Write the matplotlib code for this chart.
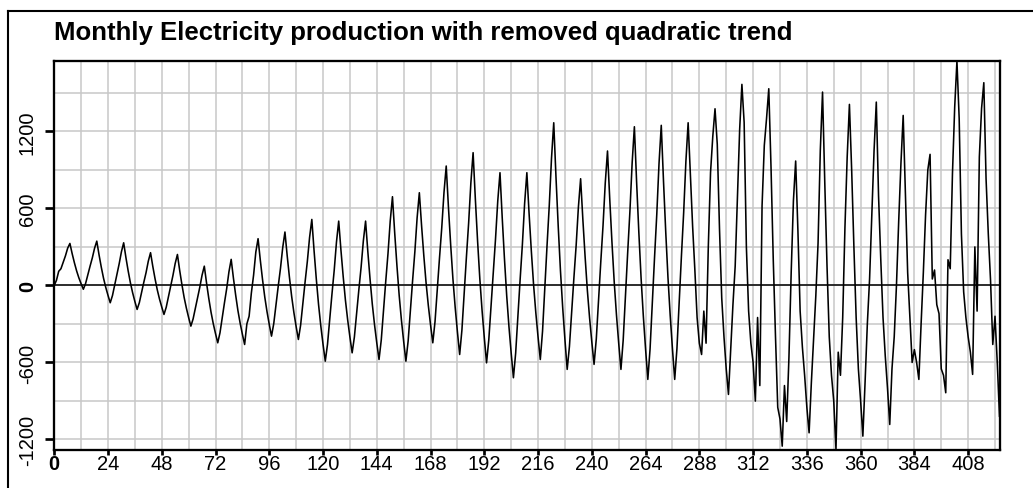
import matplotlib
matplotlib.use('Agg')
import matplotlib.pyplot as plt
from matplotlib.lines import Line2D
from matplotlib.ticker import MultipleLocator, FixedLocator
import numpy as np

# monthly production after removing the quadratic trend, one row per year
production = [
    0, 40, 110, 130, 180, 230, 290, 327, 248, 177, 113, 59,
    13, -30, 15, 83, 150, 214, 289, 345, 239, 143, 57, -15,
    -77, -135, -79, 5, 89, 169, 262, 332, 218, 114, 21, -57,
    -125, -187, -134, -54, 25, 100, 189, 255, 149, 53, -34, -106,
    -168, -226, -170, -86, -2, 78, 171, 241, 118, 7, -94, -177,
    -250, -317, -261, -177, -93, -13, 80, 150, 19, -101, -208, -298,
    -375, -447, -369, -252, -135, -24, 106, 203, 57, -75, -195, -294,
    -380, -460, -300, -240, -60, 80, 260, 364, 197, 45, -91, -205,
    -304, -395, -298, -152, -6, 132, 294, 416, 232, 64, -86, -212,
    -321, -421, -309, -140, 28, 187, 374, 514, 271, 50, -148, -314,
    -458, -590, -459, -263, -66, 119, 337, 501, 275, 70, -115, -268,
    -402, -525, -402, -217, -33, 142, 347, 501, 264, 48, -146, -307,
    -448, -577, -425, -197, 32, 247, 501, 691, 409, 153, -78, -270,
    -436, -590, -433, -196, 40, 263, 525, 722, 465, 231, 21, -155,
    -307, -447, -282, -34, 214, 448, 723, 930, 607, 313, 49, -171,
    -362, -538, -349, -66, 217, 484, 798, 1034, 674, 346, 52, -194,
    -407, -603, -425, -159, 108, 360, 656, 878, 527, 207, -80, -320,
    -527, -719, -527, -240, 48, 319, 638, 878, 558, 267, 5, -213,
    -402, -577, -356, -24, 308, 622, 990, 1267, 844, 460, 114, -174,
    -423, -654, -476, -208, 59, 311, 608, 831, 513, 224, -37, -253,
    -441, -615, -416, -116, 183, 465, 798, 1047, 673, 333, 26, -229,
    -450, -654, -427, -87, 253, 575, 953, 1236, 803, 409, 55, -240,
    -496, -732, -495, -138, 218, 554, 950, 1247, 812, 416, 60, -237,
    -495, -732, -492, -132, 228, 567, 967, 1267, 870, 460, 120, -250,
    -450, -538, -200, -450, 300, 880, 1160, 1376, 1100, 440, -100, -400,
    -650, -849, -500, -150, 150, 670, 1215, 1566, 1270, 300, -200, -450,
    -600, -901, -250, -780, 620, 1090, 1300, 1532, 920, 200, -400, -950,
    -1040, -1252, -780, -1060, -560, 100, 660, 969, 430, -200, -480, -700,
    -950, -1148, -760, -420, -80, 330, 1050, 1506, 800, 150, -400, -700,
    -900, -1278, -520, -700, -250, 450, 1000, 1410, 900, 300, -250, -650,
    -900, -1174, -750, -300, 50, 550, 1050, 1428, 700, 200, -250, -550,
    -800, -1083, -650, -400, 0, 500, 950, 1324, 700, 100, -250, -600,
    -500, -600, -732, -300, 100, 550, 900, 1021, 50, 120, -150, -220,
    -650, -700, -836, 200, 130, 870, 1390, 1748, 1300, 400, -50, -250,
    -400, -520, -693, 300, -200, 1000, 1380, 1579, 830, 400, 40, -460,
    -240, -600, -1019,
]

x_ticks = [0, 24, 48, 72, 96, 120, 144, 168, 192, 216, 240, 264, 288, 312, 336, 360, 384, 408]
y_ticks = [-1200, -600, 0, 600, 1200]
title = 'Monthly Electricity production with removed quadratic trend'

months = np.arange(len(production))

W, H = 1033, 489
px = 72 / 100  # one pixel in points

fig = plt.figure(figsize=(W / 100, H / 100), dpi=100)
ax = fig.add_axes([54 / W, 1 - 450.5 / H, (999.5 - 54) / W, (450.5 - 62) / H])

ax.plot(months, production, color='black', lw=1.15, zorder=3)
ax.axhline(0, color='black', lw=1.1, zorder=2)

ax.set_xlim(-0.1, len(production) - 1)
ax.set_ylim(min(production), max(production))

# light grid every year / every 300, labels every two years / every 600
ax.xaxis.set_major_locator(FixedLocator(x_ticks))
ax.xaxis.set_minor_locator(MultipleLocator(12))
ax.yaxis.set_major_locator(FixedLocator(y_ticks))
ax.yaxis.set_minor_locator(MultipleLocator(300))
ax.grid(True, which='both', color='#c8c8c8', lw=1.1)
ax.set_axisbelow(True)

tick_font = {'family': 'Liberation Sans', 'size': 14.5}
ax.set_xticklabels([str(t) for t in x_ticks], fontdict=tick_font)
ax.set_yticklabels([str(t) for t in y_ticks], fontdict=tick_font, rotation=90, va='center')
for lab in ax.get_xticklabels() + ax.get_yticklabels():
    if lab.get_text() == '0':
        lab.set_fontweight('bold')

ax.tick_params(which='minor', length=0)
ax.tick_params(axis='x', which='major', length=5 * px, width=2.7 * px, pad=0, direction='out')
ax.tick_params(axis='y', which='major', length=9 * px, width=2.7 * px, pad=8 * px, direction='out')

for sp in ax.spines.values():
    sp.set_linewidth(2.3 * px)
    sp.set_color('black')

fig.text(54 / W, 1 - 40 / H, title, fontsize=18.5, fontweight='bold',
         family='Liberation Sans', ha='left', va='baseline')

# window border on top and left
fig.add_artist(Line2D([7.5 / W, 1], [1 - 12 / H, 1 - 12 / H], transform=fig.transFigure,
                      color='black', lw=1.5))
fig.add_artist(Line2D([7.5 / W, 7.5 / W], [0, 1 - 12 / H], transform=fig.transFigure,
                      color='black', lw=1.5))

fig.savefig('out.png', dpi=100)
